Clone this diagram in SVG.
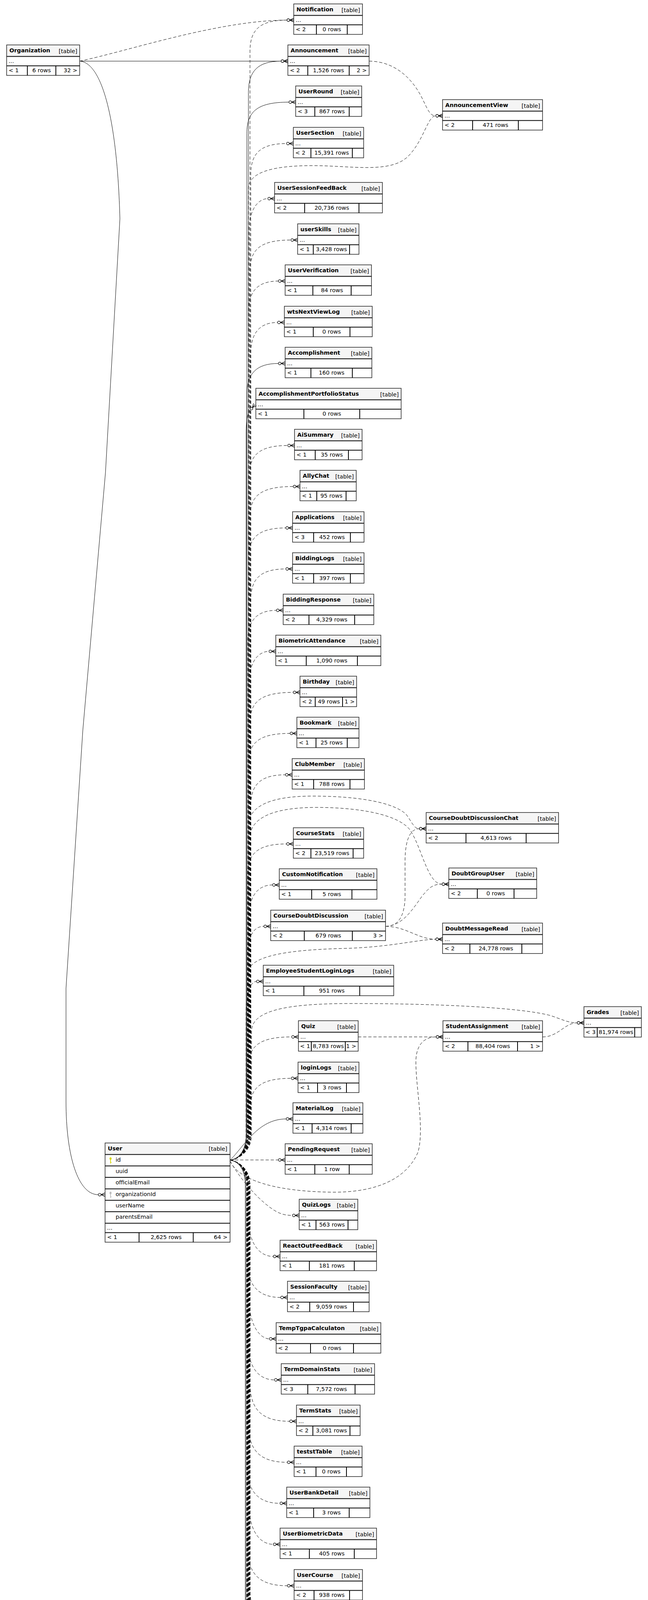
<svg xmlns="http://www.w3.org/2000/svg" xmlns:xlink="http://www.w3.org/1999/xlink" width="1659" height="6503" viewBox="0 0 1659 6503">
<style>
.h{fill:#f5f5f5}
.b{fill:none;stroke:#222;stroke-width:1.5}
.bb{fill:none;stroke:#000;stroke-width:3}
.s{fill:none;stroke:#000;stroke-width:2}
.ti{font-family:"DejaVu Sans",sans-serif;font-size:14.4px;font-weight:bold;fill:#000}
.tx,.tg,.tc,.tr{font-family:"DejaVu Sans",sans-serif;font-size:14.4px;fill:#000}
.tg,.tr{text-anchor:end}
.tc{text-anchor:middle}
.e{fill:none;stroke:#000;stroke-width:1;marker-end:url(#cf)}
.d{stroke-dasharray:8 5}
</style>
<defs>
<marker id="cf" markerUnits="userSpaceOnUse" markerWidth="20" markerHeight="14" refX="0" refY="7" orient="auto" overflow="visible">
<circle cx="3.6" cy="7" r="3.4" fill="#fff" stroke="#000" stroke-width="1.2" stroke-dasharray="none"/>
<path d="M7 7L17.5 2.3M7 7L17.5 7M7 7L17.5 11.7" fill="none" stroke="#000" stroke-width="1.3" stroke-dasharray="none"/>
</marker>
<g id="key"><ellipse cx="0" cy="0" rx="2.6" ry="3.2"/><rect x="-0.9" y="2" width="1.8" height="10.5"/><rect x="0.9" y="9" width="1.8" height="1.5"/></g>
</defs>
<rect width="1659" height="6503" fill="#fff"/>

<g id="connectors">
<path class="e d" d="M204 156.5C330 130 560 52 734.5 51.5"/>
<path class="e" d="M204 156.5L719.5 156.5"/>
<path class="e" d="M204 156.5C260 160 300 300 307 560L270 1210L212 1870L169 2530L169 2820C169 2960 200 3058.4 251.5 3058.4"/>
<path class="e d" d="M945 156.5C1010 157 1055 200 1080 250C1095 280 1100 296.5 1115.5 296.5"/>
<path class="e d" d="M987 2371.5C1020 2371.5 1035 2345 1037 2300L1037 2200C1038 2150 1050 2121.5 1073.5 2121.5"/>
<path class="e d" d="M987 2371.5C1030 2370 1055 2330 1080 2295C1100 2270 1110 2263.5 1131.5 2263.5"/>
<path class="e d" d="M987 2371.5C1040 2371.5 1070 2404.5 1115.5 2404.5"/>
<path class="e d" d="M917 2654.5L1116.5 2654.5"/>
<path class="e d" d="M1389 2654.5C1430 2654.5 1445 2618.5 1477.5 2618.5"/>
<path class="e d" d="M589 2970C608 2968 640 2950 640 2905L640 131.5C640 76.5 665 51.5 734.5 51.5"/>
<path class="e" d="M589 2970C608 2968 636 2950 636 2905L636 236.5C636 181.5 661 156.5 719.5 156.5"/>
<path class="e" d="M589 2970C608 2968 632 2950 632 2905L632 341.5C632 286.5 657 261.5 739.5 261.5"/>
<path class="e d" d="M589 2970C608 2968 642 2950 642 2905L642 447.5C642 392.5 667 367.5 733.5 367.5"/>
<path class="e d" d="M589 2970C608 2968 636 2950 636 2905L636 480C640 440 700 424 800 424C900 424 1000 445 1045 400C1085 360 1095 296.5 1115.5 296.5"/>
<path class="e d" d="M589 2970C608 2968 638 2950 638 2905L638 588.5C638 533.5 663 508.5 685.5 508.5"/>
<path class="e d" d="M589 2970C608 2968 640 2950 640 2905L640 694.5C640 639.5 665 614.5 744.5 614.5"/>
<path class="e d" d="M589 2970C608 2968 636 2950 636 2905L636 799.5C636 744.5 661 719.5 712.5 719.5"/>
<path class="e d" d="M589 2970C608 2968 642 2950 642 2905L642 905.5C642 850.5 667 825.5 710.5 825.5"/>
<path class="e" d="M589 2970C608 2968 632 2950 632 2905L632 1010.5C632 955.5 657 930.5 712.5 930.5"/>
<path class="e" d="M589 2970C608 2968 630 2950 630 2905L630 1110C630 1075 634 1058 641.5 1049"/>
<path class="e d" d="M589 2970C608 2968 638 2950 638 2905L638 1220.5C638 1165.5 663 1140.5 736.5 1140.5"/>
<path class="e d" d="M589 2970C608 2968 640 2950 640 2905L640 1325.5C640 1270.5 665 1245.5 750.5 1245.5"/>
<path class="e d" d="M589 2970C608 2968 636 2950 636 2905L636 1431.5C636 1376.5 661 1351.5 731.5 1351.5"/>
<path class="e d" d="M589 2970C608 2968 642 2950 642 2905L642 1536.5C642 1481.5 667 1456.5 731.5 1456.5"/>
<path class="e d" d="M589 2970C608 2968 634 2950 634 2905L634 1642.5C634 1587.5 659 1562.5 707.5 1562.5"/>
<path class="e d" d="M589 2970C608 2968 638 2950 638 2905L638 1747.5C638 1692.5 663 1667.5 688.5 1667.5"/>
<path class="e d" d="M589 2970C608 2968 640 2950 640 2905L640 1852.5C640 1797.5 665 1772.5 750.5 1772.5"/>
<path class="e d" d="M589 2970C608 2968 636 2950 636 2905L636 1957.5C636 1902.5 661 1877.5 742.5 1877.5"/>
<path class="e d" d="M589 2970C608 2968 642 2950 642 2905L642 2063.5C642 2008.5 667 1983.5 730.5 1983.5"/>
<path class="e d" d="M589 2970C608 2968 636 2950 636 2905L636 2110C640 2060 700 2038 800 2038C920 2038 1010 2055 1040 2085C1055 2105 1060 2121.5 1073.5 2121.5"/>
<path class="e d" d="M589 2970C608 2968 640 2950 640 2905L640 2140C645 2085 720 2067 810 2067C920 2067 1020 2085 1050 2125C1080 2170 1095 2263.5 1131.5 2263.5"/>
<path class="e d" d="M589 2970C608 2968 634 2950 634 2905L634 2240.5C634 2185.5 659 2160.5 733.5 2160.5"/>
<path class="e d" d="M589 2970C608 2968 638 2950 638 2905L638 2345.5C638 2290.5 663 2265.5 697.5 2265.5"/>
<path class="e d" d="M589 2970C608 2968 633 2950 633 2905L633 2450C634 2395 650 2371.5 675.5 2371.5"/>
<path class="e d" d="M589 2970C608 2968 634 2950 634 2905L634 2490C640 2450 720 2432 880 2428C1000 2425 1070 2405 1115.5 2404.5"/>
<path class="e d" d="M589 2970C608 2968 630 2950 630 2905L630 2590C631 2545 640 2512.5 656.5 2512.5"/>
<path class="e d" d="M589 2970C608 2968 644 2950 644 2905L644 2640C645 2590 720 2569 900 2569C1100 2569 1330 2578 1410 2600C1440 2610 1455 2618.5 1477.5 2618.5"/>
<path class="e d" d="M589 2970C608 2968 636 2950 636 2905L636 2734.5C636 2679.5 661 2654.5 746.5 2654.5"/>
<path class="e d" d="M589 2970C608 2968 640 2950 640 2905L640 2840.5C640 2785.5 665 2760.5 745.5 2760.5"/>
<path class="e" d="M589 2970C625 2935 660 2864.5 732.5 2864.5"/>
<path class="e d" d="M589 2969.5L712.5 2969.5"/>
<path class="e d" d="M589 2972C610 3020 700 3050 850 3052C960 3053 1040 3020 1070 2950C1088 2890 1062 2770 1065 2710C1068 2670 1090 2654.5 1116.5 2654.5"/>
<path class="e d" d="M589 2972C610 3010 650 3060 690 3090C710 3105 725 3111.5 748.5 3111.5"/>
<path class="e d" d="M589 2970C608 2972 636 2990 636 3035L636 3126.5C639 3186.5 666 3216.5 699.5 3216.5"/>
<path class="e d" d="M589 2970C608 2972 632 2990 632 3035L632 3231.5C635 3291.5 662 3321.5 718.5 3321.5"/>
<path class="e d" d="M589 2970C608 2972 638 2990 638 3035L638 3337.5C641 3397.5 668 3427.5 689.5 3427.5"/>
<path class="e d" d="M589 2970C608 2972 634 2990 634 3035L634 3442.5C637 3502.5 664 3532.5 702.5 3532.5"/>
<path class="e d" d="M589 2970C608 2972 640 2990 640 3035L640 3548.5C643 3608.5 670 3638.5 741.5 3638.5"/>
<path class="e d" d="M589 2970C608 2972 636 2990 636 3035L636 3653.5C639 3713.5 666 3743.5 735.5 3743.5"/>
<path class="e d" d="M589 2970C608 2972 632 2990 632 3035L632 3758.5C635 3818.5 662 3848.5 716.5 3848.5"/>
<path class="e d" d="M589 2970C608 2972 638 2990 638 3035L638 3863.5C641 3923.5 668 3953.5 699.5 3953.5"/>
<path class="e d" d="M589 2970C608 2972 634 2990 634 3035L634 3969.5C637 4029.5 664 4059.5 735.5 4059.5"/>
<path class="e d" d="M589 2970C608 2972 640 2990 640 3035L640 4074.5C643 4134.5 670 4164.5 698.5 4164.5"/>
<path class="e d" d="M589 2970C608 2972 636 2990 636 3035L636 4179.5C639 4239.5 666 4269.5 702.5 4269.5"/>
<path class="e d" d="M589 2970C608 2972 632 2990 632 3035L632 4285.5C635 4345.5 662 4375.5 728.5 4375.5"/>
<path class="e d" d="M589 2970C608 2972 638 2990 638 3035L638 4390.5C641 4450.5 668 4480.5 708.5 4480.5"/>
<path class="e d" d="M589 2970C608 2972 634 2990 634 3035L634 4496.5C637 4556.5 664 4586.5 708.5 4586.5"/>
<path class="e d" d="M589 2970C608 2972 640 2990 640 3035L640 4601.5C643 4661.5 670 4691.5 721.5 4691.5"/>
<path class="e" d="M589 2970C608 2972 630 2990 630 3035L630 4706.5C633 4766.5 660 4796.5 723.5 4796.5"/>
<path class="e" d="M589 2970C608 2972 635 2990 635 3035L635 4726.5C638 4776.5 665 4796.5 723.5 4796.5"/>
<path class="e d" d="M589 2970C608 2972 636 2990 636 3035L636 4812.5C639 4872.5 666 4902.5 715.5 4902.5"/>
<path class="e d" d="M589 2970C608 2972 640 2990 640 3035L640 5000C642 5070 648 5101 660.5 5101"/>
<path class="e d" d="M589 2970C608 2972 632 2990 632 3035L632 5268.5C635 5328.5 662 5358.5 744.5 5358.5"/>
<path class="e d" d="M589 2970C608 2972 638 2990 638 3035L638 5374.5C641 5434.5 668 5464.5 746.5 5464.5"/>
<path class="e d" d="M589 2970C608 2972 634 2990 634 3035L634 5478.5C637 5538.5 664 5568.5 719.5 5568.5"/>
<path class="e d" d="M589 2970C608 2972 640 2990 640 3035L640 5584.5C643 5644.5 670 5674.5 711.5 5674.5"/>
<path class="e d" d="M589 2970C608 2972 636 2990 636 3035L636 5689.5C639 5749.5 666 5779.5 702.5 5779.5"/>
<path class="e d" d="M589 2970C608 2972 632 2990 632 3035L632 5794.5C635 5854.5 662 5884.5 726.5 5884.5"/>
<path class="e d" d="M589 2970C608 2972 638 2990 638 3035L638 5899.5C641 5959.5 668 5989.5 696.5 5989.5"/>
<path class="e d" d="M589 2970C608 2972 634 2990 634 3035L634 6005.5C637 6065.5 664 6095.5 737.5 6095.5"/>
<path class="e d" d="M589 2970C608 2972 640 2990 640 3035L640 6111.5C643 6171.5 670 6201.5 727.5 6201.5"/>
<path class="e d" d="M589 2970C608 2972 636 2990 636 3035L636 6215.5C639 6275.5 666 6305.5 747.5 6305.5"/>
<path class="e" d="M589 2970C608 2972 628 2990 628 3035L628 6321.5C631 6381.5 658 6411.5 747.5 6411.5"/>
</g>

<g id="t-Organization" transform="translate(17 115)"><rect class="h" width="187" height="29.5"/><rect class="b" width="187" height="78"/><path class="s" d="M0 29.5H187M0 53.5H187M53 53.5V78M126 53.5V78"/><text class="ti" x="7" y="19">Organization</text><text class="tg" x="181" y="20.5">[table]</text><text class="tx" x="5" y="46">...</text><text class="tx" x="5" y="70">&lt; 1</text><text class="tc" x="89.5" y="70">6 rows</text><text class="tr" x="181" y="70">32 &gt;</text></g>

<g id="t-Notification" transform="translate(752 10)"><rect class="h" width="176" height="29.5"/><rect class="b" width="176" height="78"/><path class="s" d="M0 29.5H176M0 53.5H176M58 53.5V78M137 53.5V78"/><text class="ti" x="7" y="19">Notification</text><text class="tg" x="170" y="20.5">[table]</text><text class="tx" x="5" y="46">...</text><text class="tx" x="5" y="70">&lt; 2</text><text class="tc" x="97.5" y="70">0 rows</text></g>

<g id="t-Announcement" transform="translate(737 115)"><rect class="h" width="208" height="29.5"/><rect class="b" width="208" height="78"/><path class="s" d="M0 29.5H208M0 53.5H208M51 53.5V78M157 53.5V78"/><text class="ti" x="7" y="19">Announcement</text><text class="tg" x="202" y="20.5">[table]</text><text class="tx" x="5" y="46">...</text><text class="tx" x="5" y="70">&lt; 2</text><text class="tc" x="104" y="70">1,526 rows</text><text class="tr" x="202" y="70">2 &gt;</text></g>

<g id="t-UserRound" transform="translate(757 220)"><rect class="h" width="169" height="29.5"/><rect class="b" width="169" height="78"/><path class="s" d="M0 29.5H169M0 53.5H169M49 53.5V78M137 53.5V78"/><text class="ti" x="7" y="19">UserRound</text><text class="tg" x="163" y="20.5">[table]</text><text class="tx" x="5" y="46">...</text><text class="tx" x="5" y="70">&lt; 3</text><text class="tc" x="93" y="70">867 rows</text></g>

<g id="t-AnnouncementView" transform="translate(1133 255)"><rect class="h" width="256" height="29.5"/><rect class="b" width="256" height="78"/><path class="s" d="M0 29.5H256M0 53.5H256M77 53.5V78M194 53.5V78"/><text class="ti" x="7" y="19">AnnouncementView</text><text class="tg" x="250" y="20.5">[table]</text><text class="tx" x="5" y="46">...</text><text class="tx" x="5" y="70">&lt; 2</text><text class="tc" x="135.5" y="70">471 rows</text></g>

<g id="t-UserSection" transform="translate(751 326)"><rect class="h" width="180" height="29.5"/><rect class="b" width="180" height="78"/><path class="s" d="M0 29.5H180M0 53.5H180M45 53.5V78M151 53.5V78"/><text class="ti" x="7" y="19">UserSection</text><text class="tg" x="174" y="20.5">[table]</text><text class="tx" x="5" y="46">...</text><text class="tx" x="5" y="70">&lt; 2</text><text class="tc" x="98" y="70">15,391 rows</text></g>

<g id="t-UserSessionFeedBack" transform="translate(703 467)"><rect class="h" width="276" height="29.5"/><rect class="b" width="276" height="78"/><path class="s" d="M0 29.5H276M0 53.5H276M77 53.5V78M216 53.5V78"/><text class="ti" x="7" y="19">UserSessionFeedBack</text><text class="tg" x="270" y="20.5">[table]</text><text class="tx" x="5" y="46">...</text><text class="tx" x="5" y="70">&lt; 2</text><text class="tc" x="146.5" y="70">20,736 rows</text></g>

<g id="t-userSkills" transform="translate(762 573)"><rect class="h" width="157" height="29.5"/><rect class="b" width="157" height="78"/><path class="s" d="M0 29.5H157M0 53.5H157M40 53.5V78M133 53.5V78"/><text class="ti" x="7" y="19">userSkills</text><text class="tg" x="151" y="20.5">[table]</text><text class="tx" x="5" y="46">...</text><text class="tx" x="5" y="70">&lt; 1</text><text class="tc" x="86.5" y="70">3,428 rows</text></g>

<g id="t-UserVerification" transform="translate(730 678)"><rect class="h" width="221" height="29.5"/><rect class="b" width="221" height="78"/><path class="s" d="M0 29.5H221M0 53.5H221M71 53.5V78M169 53.5V78"/><text class="ti" x="7" y="19">UserVerification</text><text class="tg" x="215" y="20.5">[table]</text><text class="tx" x="5" y="46">...</text><text class="tx" x="5" y="70">&lt; 1</text><text class="tc" x="120" y="70">84 rows</text></g>

<g id="t-wtsNextViewLog" transform="translate(728 784)"><rect class="h" width="225" height="29.5"/><rect class="b" width="225" height="78"/><path class="s" d="M0 29.5H225M0 53.5H225M74 53.5V78M168 53.5V78"/><text class="ti" x="7" y="19">wtsNextViewLog</text><text class="tg" x="219" y="20.5">[table]</text><text class="tx" x="5" y="46">...</text><text class="tx" x="5" y="70">&lt; 1</text><text class="tc" x="121" y="70">0 rows</text></g>

<g id="t-Accomplishment" transform="translate(730 889)"><rect class="h" width="222" height="29.5"/><rect class="b" width="222" height="78"/><path class="s" d="M0 29.5H222M0 53.5H222M66 53.5V78M172 53.5V78"/><text class="ti" x="7" y="19">Accomplishment</text><text class="tg" x="216" y="20.5">[table]</text><text class="tx" x="5" y="46">...</text><text class="tx" x="5" y="70">&lt; 1</text><text class="tc" x="119" y="70">160 rows</text></g>

<g id="t-AccomplishmentPortfolioStatus" transform="translate(655 994)"><rect class="h" width="372" height="29.5"/><rect class="b" width="372" height="78"/><path class="s" d="M0 29.5H372M0 53.5H372M123 53.5V78M266 53.5V78"/><text class="ti" x="7" y="19">AccomplishmentPortfolioStatus</text><text class="tg" x="366" y="20.5">[table]</text><text class="tx" x="5" y="46">...</text><text class="tx" x="5" y="70">&lt; 1</text><text class="tc" x="194.5" y="70">0 rows</text></g>

<g id="t-AiSummary" transform="translate(754 1099)"><rect class="h" width="173" height="29.5"/><rect class="b" width="173" height="78"/><path class="s" d="M0 29.5H173M0 53.5H173M53 53.5V78M138 53.5V78"/><text class="ti" x="7" y="19">AiSummary</text><text class="tg" x="167" y="20.5">[table]</text><text class="tx" x="5" y="46">...</text><text class="tx" x="5" y="70">&lt; 1</text><text class="tc" x="95.5" y="70">35 rows</text></g>

<g id="t-AllyChat" transform="translate(768 1204)"><rect class="h" width="144" height="29.5"/><rect class="b" width="144" height="78"/><path class="s" d="M0 29.5H144M0 53.5H144M43 53.5V78M118 53.5V78"/><text class="ti" x="7" y="19">AllyChat</text><text class="tg" x="138" y="20.5">[table]</text><text class="tx" x="5" y="46">...</text><text class="tx" x="5" y="70">&lt; 1</text><text class="tc" x="80.5" y="70">95 rows</text></g>

<g id="t-Applications" transform="translate(749 1310)"><rect class="h" width="183" height="29.5"/><rect class="b" width="183" height="78"/><path class="s" d="M0 29.5H183M0 53.5H183M54 53.5V78M148 53.5V78"/><text class="ti" x="7" y="19">Applications</text><text class="tg" x="177" y="20.5">[table]</text><text class="tx" x="5" y="46">...</text><text class="tx" x="5" y="70">&lt; 3</text><text class="tc" x="101" y="70">452 rows</text></g>

<g id="t-BiddingLogs" transform="translate(749 1415)"><rect class="h" width="183" height="29.5"/><rect class="b" width="183" height="78"/><path class="s" d="M0 29.5H183M0 53.5H183M54 53.5V78M148 53.5V78"/><text class="ti" x="7" y="19">BiddingLogs</text><text class="tg" x="177" y="20.5">[table]</text><text class="tx" x="5" y="46">...</text><text class="tx" x="5" y="70">&lt; 1</text><text class="tc" x="101" y="70">397 rows</text></g>

<g id="t-BiddingResponse" transform="translate(725 1521)"><rect class="h" width="232" height="29.5"/><rect class="b" width="232" height="78"/><path class="s" d="M0 29.5H232M0 53.5H232M66 53.5V78M183 53.5V78"/><text class="ti" x="7" y="19">BiddingResponse</text><text class="tg" x="226" y="20.5">[table]</text><text class="tx" x="5" y="46">...</text><text class="tx" x="5" y="70">&lt; 2</text><text class="tc" x="124.5" y="70">4,329 rows</text></g>

<g id="t-BiometricAttendance" transform="translate(706 1626)"><rect class="h" width="269" height="29.5"/><rect class="b" width="269" height="78"/><path class="s" d="M0 29.5H269M0 53.5H269M78 53.5V78M209 53.5V78"/><text class="ti" x="7" y="19">BiometricAttendance</text><text class="tg" x="263" y="20.5">[table]</text><text class="tx" x="5" y="46">...</text><text class="tx" x="5" y="70">&lt; 1</text><text class="tc" x="143.5" y="70">1,090 rows</text></g>

<g id="t-Birthday" transform="translate(768 1731)"><rect class="h" width="145" height="29.5"/><rect class="b" width="145" height="78"/><path class="s" d="M0 29.5H145M0 53.5H145M39 53.5V78M109 53.5V78"/><text class="ti" x="7" y="19">Birthday</text><text class="tg" x="139" y="20.5">[table]</text><text class="tx" x="5" y="46">...</text><text class="tx" x="5" y="70">&lt; 2</text><text class="tc" x="74" y="70">49 rows</text><text class="tr" x="140" y="70">1 &gt;</text></g>

<g id="t-Bookmark" transform="translate(760 1836)"><rect class="h" width="159" height="29.5"/><rect class="b" width="159" height="78"/><path class="s" d="M0 29.5H159M0 53.5H159M49 53.5V78M129 53.5V78"/><text class="ti" x="7" y="19">Bookmark</text><text class="tg" x="153" y="20.5">[table]</text><text class="tx" x="5" y="46">...</text><text class="tx" x="5" y="70">&lt; 1</text><text class="tc" x="89" y="70">25 rows</text></g>

<g id="t-ClubMember" transform="translate(748 1942)"><rect class="h" width="185" height="29.5"/><rect class="b" width="185" height="78"/><path class="s" d="M0 29.5H185M0 53.5H185M55 53.5V78M148 53.5V78"/><text class="ti" x="7" y="19">ClubMember</text><text class="tg" x="179" y="20.5">[table]</text><text class="tx" x="5" y="46">...</text><text class="tx" x="5" y="70">&lt; 1</text><text class="tc" x="101.5" y="70">788 rows</text></g>

<g id="t-CourseDoubtDiscussionChat" transform="translate(1091 2080)"><rect class="h" width="339" height="29.5"/><rect class="b" width="339" height="78"/><path class="s" d="M0 29.5H339M0 53.5H339M102 53.5V78M256 53.5V78"/><text class="ti" x="7" y="19">CourseDoubtDiscussionChat</text><text class="tg" x="333" y="20.5">[table]</text><text class="tx" x="5" y="46">...</text><text class="tx" x="5" y="70">&lt; 2</text><text class="tc" x="179" y="70">4,613 rows</text></g>

<g id="t-CourseStats" transform="translate(751 2119)"><rect class="h" width="180" height="29.5"/><rect class="b" width="180" height="78"/><path class="s" d="M0 29.5H180M0 53.5H180M45 53.5V78M153 53.5V78"/><text class="ti" x="7" y="19">CourseStats</text><text class="tg" x="174" y="20.5">[table]</text><text class="tx" x="5" y="46">...</text><text class="tx" x="5" y="70">&lt; 2</text><text class="tc" x="99" y="70">23,519 rows</text></g>

<g id="t-DoubtGroupUser" transform="translate(1149 2222)"><rect class="h" width="225" height="29.5"/><rect class="b" width="225" height="78"/><path class="s" d="M0 29.5H225M0 53.5H225M73 53.5V78M167 53.5V78"/><text class="ti" x="7" y="19">DoubtGroupUser</text><text class="tg" x="219" y="20.5">[table]</text><text class="tx" x="5" y="46">...</text><text class="tx" x="5" y="70">&lt; 2</text><text class="tc" x="120" y="70">0 rows</text></g>

<g id="t-CustomNotification" transform="translate(715 2224)"><rect class="h" width="250" height="29.5"/><rect class="b" width="250" height="78"/><path class="s" d="M0 29.5H250M0 53.5H250M83 53.5V78M186 53.5V78"/><text class="ti" x="7" y="19">CustomNotification</text><text class="tg" x="244" y="20.5">[table]</text><text class="tx" x="5" y="46">...</text><text class="tx" x="5" y="70">&lt; 1</text><text class="tc" x="134.5" y="70">5 rows</text></g>

<g id="t-CourseDoubtDiscussion" transform="translate(693 2330)"><rect class="h" width="294" height="29.5"/><rect class="b" width="294" height="78"/><path class="s" d="M0 29.5H294M0 53.5H294M86 53.5V78M209 53.5V78"/><text class="ti" x="7" y="19">CourseDoubtDiscussion</text><text class="tg" x="288" y="20.5">[table]</text><text class="tx" x="5" y="46">...</text><text class="tx" x="5" y="70">&lt; 2</text><text class="tc" x="147.5" y="70">679 rows</text><text class="tr" x="288" y="70">3 &gt;</text></g>

<g id="t-DoubtMessageRead" transform="translate(1133 2363)"><rect class="h" width="256" height="29.5"/><rect class="b" width="256" height="78"/><path class="s" d="M0 29.5H256M0 53.5H256M70 53.5V78M203 53.5V78"/><text class="ti" x="7" y="19">DoubtMessageRead</text><text class="tg" x="250" y="20.5">[table]</text><text class="tx" x="5" y="46">...</text><text class="tx" x="5" y="70">&lt; 2</text><text class="tc" x="136.5" y="70">24,778 rows</text></g>

<g id="t-EmployeeStudentLoginLogs" transform="translate(674 2471)"><rect class="h" width="334" height="29.5"/><rect class="b" width="334" height="78"/><path class="s" d="M0 29.5H334M0 53.5H334M104 53.5V78M247 53.5V78"/><text class="ti" x="7" y="19">EmployeeStudentLoginLogs</text><text class="tg" x="328" y="20.5">[table]</text><text class="tx" x="5" y="46">...</text><text class="tx" x="5" y="70">&lt; 1</text><text class="tc" x="175.5" y="70">951 rows</text></g>

<g id="t-Grades" transform="translate(1495 2577)"><rect class="h" width="147" height="29.5"/><rect class="b" width="147" height="78"/><path class="s" d="M0 29.5H147M0 53.5H147M34 53.5V78M130 53.5V78"/><text class="ti" x="7" y="19">Grades</text><text class="tg" x="141" y="20.5">[table]</text><text class="tx" x="5" y="46">...</text><text class="tx" x="4" y="70">&lt; 3</text><text class="tc" x="82" y="70">81,974 rows</text></g>

<g id="t-Quiz" transform="translate(764 2613)"><rect class="h" width="153" height="29.5"/><rect class="b" width="153" height="78"/><path class="s" d="M0 29.5H153M0 53.5H153M33 53.5V78M120 53.5V78"/><text class="ti" x="7" y="19">Quiz</text><text class="tg" x="147" y="20.5">[table]</text><text class="tx" x="5" y="46">...</text><text class="tx" x="4" y="70">&lt; 1</text><text class="tc" x="76.5" y="70">8,783 rows</text><text class="tr" x="148" y="70">1 &gt;</text></g>

<g id="t-StudentAssignment" transform="translate(1134 2613)"><rect class="h" width="255" height="29.5"/><rect class="b" width="255" height="78"/><path class="s" d="M0 29.5H255M0 53.5H255M64 53.5V78M191 53.5V78"/><text class="ti" x="7" y="19">StudentAssignment</text><text class="tg" x="249" y="20.5">[table]</text><text class="tx" x="5" y="46">...</text><text class="tx" x="5" y="70">&lt; 2</text><text class="tc" x="127.5" y="70">88,404 rows</text><text class="tr" x="249" y="70">1 &gt;</text></g>

<g id="t-loginLogs" transform="translate(763 2719)"><rect class="h" width="156" height="29.5"/><rect class="b" width="156" height="78"/><path class="s" d="M0 29.5H156M0 53.5H156M50 53.5V78M124 53.5V78"/><text class="ti" x="7" y="19">loginLogs</text><text class="tg" x="150" y="20.5">[table]</text><text class="tx" x="5" y="46">...</text><text class="tx" x="5" y="70">&lt; 1</text><text class="tc" x="87" y="70">3 rows</text></g>

<g id="t-MaterialLog" transform="translate(750 2823)"><rect class="h" width="179" height="29.5"/><rect class="b" width="179" height="78"/><path class="s" d="M0 29.5H179M0 53.5H179M49 53.5V78M149 53.5V78"/><text class="ti" x="7" y="19">MaterialLog</text><text class="tg" x="173" y="20.5">[table]</text><text class="tx" x="5" y="46">...</text><text class="tx" x="5" y="70">&lt; 1</text><text class="tc" x="99" y="70">4,314 rows</text></g>

<g id="t-PendingRequest" transform="translate(730 2928)"><rect class="h" width="223" height="29.5"/><rect class="b" width="223" height="78"/><path class="s" d="M0 29.5H223M0 53.5H223M76 53.5V78M164 53.5V78"/><text class="ti" x="7" y="19">PendingRequest</text><text class="tg" x="217" y="20.5">[table]</text><text class="tx" x="5" y="46">...</text><text class="tx" x="5" y="70">&lt; 1</text><text class="tc" x="120" y="70">1 row</text></g>

<g id="t-User" transform="translate(269 2926)">
<rect class="h" width="320" height="29.4"/><rect class="b" width="320" height="254"/>
<path class="s" d="M0 29.4H320M0 58.7H320M0 88H320M0 117.4H320M0 146.7H320M0 176H320M0 205.4H320M0 229.4H320M87 229.4V254M225.7 229.4V254"/>
<text class="ti" x="7" y="18.5">User</text><text class="tg" x="313" y="20">[table]</text>
<use xlink:href="#key" href="#key" x="14" y="40" fill="#d6d600"/>
<use xlink:href="#key" href="#key" x="14" y="128" fill="#bdbdbd"/>
<text class="tx" x="27" y="47.7">id</text>
<text class="tx" x="27" y="77">uuid</text>
<text class="tx" x="27" y="106.3">officialEmail</text>
<text class="tx" x="27" y="135.7">organizationId</text>
<text class="tx" x="27" y="165">userName</text>
<text class="tx" x="27" y="194.3">parentsEmail</text>
<text class="tx" x="5" y="222">...</text>
<text class="tx" x="5" y="246">&lt; 1</text><text class="tc" x="156.4" y="246">2,625 rows</text><text class="tr" x="313.5" y="246">64 &gt;</text>
</g>

<g id="t-QuizLogs" transform="translate(766 3070)"><rect class="h" width="150" height="29.5"/><rect class="b" width="150" height="78"/><path class="s" d="M0 29.5H150M0 53.5H150M43 53.5V78M125 53.5V78"/><text class="ti" x="7" y="19">QuizLogs</text><text class="tg" x="144" y="20.5">[table]</text><text class="tx" x="5" y="46">...</text><text class="tx" x="5" y="70">&lt; 1</text><text class="tc" x="84" y="70">563 rows</text></g>

<g id="t-ReactOutFeedBack" transform="translate(717 3175)"><rect class="h" width="247" height="29.5"/><rect class="b" width="247" height="78"/><path class="s" d="M0 29.5H247M0 53.5H247M75 53.5V78M190 53.5V78"/><text class="ti" x="7" y="19">ReactOutFeedBack</text><text class="tg" x="241" y="20.5">[table]</text><text class="tx" x="5" y="46">...</text><text class="tx" x="5" y="70">&lt; 1</text><text class="tc" x="132.5" y="70">181 rows</text></g>

<g id="t-SessionFaculty" transform="translate(736 3280)"><rect class="h" width="209" height="29.5"/><rect class="b" width="209" height="78"/><path class="s" d="M0 29.5H209M0 53.5H209M57 53.5V78M169 53.5V78"/><text class="ti" x="7" y="19">SessionFaculty</text><text class="tg" x="203" y="20.5">[table]</text><text class="tx" x="5" y="46">...</text><text class="tx" x="5" y="70">&lt; 2</text><text class="tc" x="113" y="70">9,059 rows</text></g>

<g id="t-TempTgpaCalculaton" transform="translate(707 3386)"><rect class="h" width="268" height="29.5"/><rect class="b" width="268" height="78"/><path class="s" d="M0 29.5H268M0 53.5H268M88 53.5V78M198 53.5V78"/><text class="ti" x="7" y="19">TempTgpaCalculaton</text><text class="tg" x="262" y="20.5">[table]</text><text class="tx" x="5" y="46">...</text><text class="tx" x="5" y="70">&lt; 2</text><text class="tc" x="143" y="70">0 rows</text></g>

<g id="t-TermDomainStats" transform="translate(720 3491)"><rect class="h" width="239" height="29.5"/><rect class="b" width="239" height="78"/><path class="s" d="M0 29.5H239M0 53.5H239M68 53.5V78M189 53.5V78"/><text class="ti" x="7" y="19">TermDomainStats</text><text class="tg" x="233" y="20.5">[table]</text><text class="tx" x="5" y="46">...</text><text class="tx" x="5" y="70">&lt; 3</text><text class="tc" x="128.5" y="70">7,572 rows</text></g>

<g id="t-TermStats" transform="translate(759 3597)"><rect class="h" width="163" height="29.5"/><rect class="b" width="163" height="78"/><path class="s" d="M0 29.5H163M0 53.5H163M42 53.5V78M137 53.5V78"/><text class="ti" x="7" y="19">TermStats</text><text class="tg" x="157" y="20.5">[table]</text><text class="tx" x="5" y="46">...</text><text class="tx" x="5" y="70">&lt; 2</text><text class="tc" x="89.5" y="70">3,081 rows</text></g>

<g id="t-teststTable" transform="translate(753 3702)"><rect class="h" width="174" height="29.5"/><rect class="b" width="174" height="78"/><path class="s" d="M0 29.5H174M0 53.5H174M56 53.5V78M134 53.5V78"/><text class="ti" x="7" y="19">teststTable</text><text class="tg" x="168" y="20.5">[table]</text><text class="tx" x="5" y="46">...</text><text class="tx" x="5" y="70">&lt; 1</text><text class="tc" x="95" y="70">0 rows</text></g>

<g id="t-UserBankDetail" transform="translate(734 3807)"><rect class="h" width="213" height="29.5"/><rect class="b" width="213" height="78"/><path class="s" d="M0 29.5H213M0 53.5H213M69 53.5V78M160 53.5V78"/><text class="ti" x="7" y="19">UserBankDetail</text><text class="tg" x="207" y="20.5">[table]</text><text class="tx" x="5" y="46">...</text><text class="tx" x="5" y="70">&lt; 1</text><text class="tc" x="114.5" y="70">3 rows</text></g>

<g id="t-UserBiometricData" transform="translate(717 3912)"><rect class="h" width="247" height="29.5"/><rect class="b" width="247" height="78"/><path class="s" d="M0 29.5H247M0 53.5H247M75 53.5V78M190 53.5V78"/><text class="ti" x="7" y="19">UserBiometricData</text><text class="tg" x="241" y="20.5">[table]</text><text class="tx" x="5" y="46">...</text><text class="tx" x="5" y="70">&lt; 1</text><text class="tc" x="132.5" y="70">405 rows</text></g>

<g id="t-UserCourse" transform="translate(753 4018)"><rect class="h" width="175" height="29.5"/><rect class="b" width="175" height="78"/><path class="s" d="M0 29.5H175M0 53.5H175M51 53.5V78M142 53.5V78"/><text class="ti" x="7" y="19">UserCourse</text><text class="tg" x="169" y="20.5">[table]</text><text class="tx" x="5" y="46">...</text><text class="tx" x="5" y="70">&lt; 2</text><text class="tc" x="96.5" y="70">938 rows</text></g>

<g id="t-UserCourseDomain" transform="translate(716 4123)"><rect class="h" width="248" height="29.5"/><rect class="b" width="248" height="78"/><path class="s" d="M0 29.5H248M0 53.5H248M68 53.5V78M197 53.5V78"/><text class="ti" x="7" y="19">UserCourseDomain</text><text class="tg" x="242" y="20.5">[table]</text><text class="tx" x="5" y="46">...</text><text class="tx" x="5" y="70">&lt; 4</text><text class="tc" x="132.5" y="70">56,223 rows</text></g>

<g id="t-UserCustomPolicy" transform="translate(720 4228)"><rect class="h" width="240" height="29.5"/><rect class="b" width="240" height="78"/><path class="s" d="M0 29.5H240M0 53.5H240M76 53.5V78M181 53.5V78"/><text class="ti" x="7" y="19">UserCustomPolicy</text><text class="tg" x="234" y="20.5">[table]</text><text class="tx" x="5" y="46">...</text><text class="tx" x="5" y="70">&lt; 1</text><text class="tc" x="128.5" y="70">34 rows</text></g>

<g id="t-UserDocSign" transform="translate(746 4334)"><rect class="h" width="188" height="29.5"/><rect class="b" width="188" height="78"/><path class="s" d="M0 29.5H188M0 53.5H188M55 53.5V78M150 53.5V78"/><text class="ti" x="7" y="19">UserDocSign</text><text class="tg" x="182" y="20.5">[table]</text><text class="tx" x="5" y="46">...</text><text class="tx" x="5" y="70">&lt; 2</text><text class="tc" x="102.5" y="70">494 rows</text></g>

<g id="t-UserDomainData" transform="translate(726 4439)"><rect class="h" width="227" height="29.5"/><rect class="b" width="227" height="78"/><path class="s" d="M0 29.5H227M0 53.5H227M65 53.5V78M181 53.5V78"/><text class="ti" x="7" y="19">UserDomainData</text><text class="tg" x="221" y="20.5">[table]</text><text class="tx" x="5" y="46">...</text><text class="tx" x="5" y="70">&lt; 3</text><text class="tc" x="123" y="70">2,675 rows</text></g>

<g id="t-UserDomainLogs" transform="translate(726 4545)"><rect class="h" width="227" height="29.5"/><rect class="b" width="227" height="78"/><path class="s" d="M0 29.5H227M0 53.5H227M68 53.5V78M177 53.5V78"/><text class="ti" x="7" y="19">UserDomainLogs</text><text class="tg" x="221" y="20.5">[table]</text><text class="tx" x="5" y="46">...</text><text class="tx" x="5" y="70">&lt; 3</text><text class="tc" x="122.5" y="70">367 rows</text></g>

<g id="t-UserEducation" transform="translate(739 4650)"><rect class="h" width="203" height="29.5"/><rect class="b" width="203" height="78"/><path class="s" d="M0 29.5H203M0 53.5H203M55 53.5V78M165 53.5V78"/><text class="ti" x="7" y="19">UserEducation</text><text class="tg" x="197" y="20.5">[table]</text><text class="tx" x="5" y="46">...</text><text class="tx" x="5" y="70">&lt; 1</text><text class="tc" x="110" y="70">1,135 rows</text></g>

<g id="t-UserEligibility" transform="translate(741 4755)"><rect class="h" width="199" height="29.5"/><rect class="b" width="199" height="78"/><path class="s" d="M0 29.5H199M0 53.5H199M55 53.5V78M162 53.5V78"/><text class="ti" x="7" y="19">UserEligibility</text><text class="tg" x="193" y="20.5">[table]</text><text class="tx" x="5" y="46">...</text><text class="tx" x="5" y="70">&lt; 4</text><text class="tc" x="108.5" y="70">3,365 rows</text></g>

<g id="t-UserExperience" transform="translate(733 4861)"><rect class="h" width="215" height="29.5"/><rect class="b" width="215" height="78"/><path class="s" d="M0 29.5H215M0 53.5H215M64 53.5V78M168 53.5V78"/><text class="ti" x="7" y="19">UserExperience</text><text class="tg" x="209" y="20.5">[table]</text><text class="tx" x="5" y="46">...</text><text class="tx" x="5" y="70">&lt; 1</text><text class="tc" x="116" y="70">579 rows</text></g>

<g id="t-UserGroup" transform="translate(678 4966)">
<rect class="h" width="324" height="32.2"/><rect class="bb" width="324" height="323"/>
<path class="s" d="M0 32.2H324M0 61.6H324M0 91H324M0 120.4H324M0 149.8H324M0 179.2H324M0 208.6H324M0 238H324M0 267.4H324M0 296.8H324M178 32.2V296.8M92 296.8V323M234 296.8V323"/>
<text class="ti" x="9" y="20.5">UserGroup</text><text class="tg" x="317" y="22">[table]</text>
<use xlink:href="#key" href="#key" x="15" y="43" fill="#d6d600"/>
<use xlink:href="#key" href="#key" x="15" y="131" fill="#bdbdbd"/>
<text class="tx" x="29" y="50.5">id</text><text class="tx" x="182" y="50.5">serial[10]</text>
<text class="tx" x="29" y="79.9">uuid</text><text class="tx" x="182" y="79.9">uuid[2147483647]</text>
<text class="tx" x="29" y="109.3">sectionGroupId</text><text class="tx" x="182" y="109.3">int4[10]</text>
<text class="tx" x="29" y="138.7">userId</text><text class="tx" x="182" y="138.7">int4[10]</text>
<text class="tx" x="29" y="168.1">isDeleted</text><text class="tx" x="182" y="168.1">bool[1]</text>
<text class="tx" x="29" y="197.5">createdBy</text><text class="tx" x="182" y="197.5">int4[10]</text>
<text class="tx" x="29" y="226.9">updatedBy</text><text class="tx" x="182" y="226.9">int4[10]</text>
<text class="tx" x="29" y="256.3">createdAt</text><text class="tx" x="182" y="256.3">timestamptz[35,6]</text>
<text class="tx" x="29" y="285.7">updatedAt</text><text class="tx" x="182" y="285.7">timestamptz[35,6]</text>
<text class="tx" x="8" y="314.5">&lt; 1</text><text class="tc" x="163" y="314.5">5,003 rows</text><text class="tr" x="317" y="314.5">0 &gt;</text>
</g>

<g id="t-UserLevel" transform="translate(762 5317)"><rect class="h" width="157" height="29.5"/><rect class="b" width="157" height="78"/><path class="s" d="M0 29.5H157M0 53.5H157M37 53.5V78M136 53.5V78"/><text class="ti" x="7" y="19">UserLevel</text><text class="tg" x="151" y="20.5">[table]</text><text class="tx" x="5" y="46">...</text><text class="tx" x="4" y="70">&lt; 2</text><text class="tc" x="86.5" y="70">15,084 rows</text></g>

<g id="t-UserLogs" transform="translate(764 5423)"><rect class="h" width="152" height="29.5"/><rect class="b" width="152" height="78"/><path class="s" d="M0 29.5H152M0 53.5H152M40 53.5V78M131 53.5V78"/><text class="ti" x="7" y="19">UserLogs</text><text class="tg" x="146" y="20.5">[table]</text><text class="tx" x="5" y="46">...</text><text class="tx" x="5" y="70">&lt; 1</text><text class="tc" x="85.5" y="70">1,805 rows</text></g>

<g id="t-UserNewsFeed" transform="translate(737 5527)"><rect class="h" width="207" height="29.5"/><rect class="b" width="207" height="78"/><path class="s" d="M0 29.5H207M0 53.5H207M65 53.5V78M159 53.5V78"/><text class="ti" x="7" y="19">UserNewsFeed</text><text class="tg" x="201" y="20.5">[table]</text><text class="tx" x="5" y="46">...</text><text class="tx" x="5" y="70">&lt; 2</text><text class="tc" x="112" y="70">23 rows</text></g>

<g id="t-UserNotification" transform="translate(729 5633)"><rect class="h" width="222" height="29.5"/><rect class="b" width="222" height="78"/><path class="s" d="M0 29.5H222M0 53.5H222M60 53.5V78M180 53.5V78"/><text class="ti" x="7" y="19">UserNotification</text><text class="tg" x="216" y="20.5">[table]</text><text class="tx" x="5" y="46">...</text><text class="tx" x="5" y="70">&lt; 1</text><text class="tc" x="120" y="70">52,277 rows</text></g>

<g id="t-UserNpsResponse" transform="translate(720 5738)"><rect class="h" width="240" height="29.5"/><rect class="b" width="240" height="78"/><path class="s" d="M0 29.5H240M0 53.5H240M70 53.5V78M189 53.5V78"/><text class="ti" x="7" y="19">UserNpsResponse</text><text class="tg" x="234" y="20.5">[table]</text><text class="tx" x="5" y="46">...</text><text class="tx" x="5" y="70">&lt; 2</text><text class="tc" x="129.5" y="70">4,101 rows</text></g>

<g id="t-UserPortfolio" transform="translate(744 5843)"><rect class="h" width="192" height="29.5"/><rect class="b" width="192" height="78"/><path class="s" d="M0 29.5H192M0 53.5H192M61 53.5V78M150 53.5V78"/><text class="ti" x="7" y="19">UserPortfolio</text><text class="tg" x="186" y="20.5">[table]</text><text class="tx" x="5" y="46">...</text><text class="tx" x="5" y="70">&lt; 1</text><text class="tc" x="105.5" y="70">50 rows</text></g>

<g id="t-UserPortfolioStatus" transform="translate(714 5948)"><rect class="h" width="254" height="29.5"/><rect class="b" width="254" height="78"/><path class="s" d="M0 29.5H254M0 53.5H254M77 53.5V78M194 53.5V78"/><text class="ti" x="7" y="19">UserPortfolioStatus</text><text class="tg" x="248" y="20.5">[table]</text><text class="tx" x="5" y="46">...</text><text class="tx" x="5" y="70">&lt; 1</text><text class="tc" x="135.5" y="70">770 rows</text></g>

<g id="t-UserProfile" transform="translate(755 6054)"><rect class="h" width="170" height="29.5"/><rect class="b" width="170" height="78"/><path class="s" d="M0 29.5H170M0 53.5H170M49 53.5V78M139 53.5V78"/><text class="ti" x="7" y="19">UserProfile</text><text class="tg" x="164" y="20.5">[table]</text><text class="tx" x="5" y="46">...</text><text class="tx" x="5" y="70">&lt; 1</text><text class="tc" x="94" y="70">937 rows</text></g>

<g id="t-UserProgram" transform="translate(745 6160)"><rect class="h" width="191" height="29.5"/><rect class="b" width="191" height="78"/><path class="s" d="M0 29.5H191M0 53.5H191M52 53.5V78M156 53.5V78"/><text class="ti" x="7" y="19">UserProgram</text><text class="tg" x="185" y="20.5">[table]</text><text class="tx" x="5" y="46">...</text><text class="tx" x="5" y="70">&lt; 2</text><text class="tc" x="104" y="70">2,149 rows</text></g>

<g id="t-UserRole" transform="translate(765 6264)"><rect class="h" width="150" height="29.5"/><rect class="b" width="150" height="78"/><path class="s" d="M0 29.5H150M0 53.5H150M38 53.5V78M129 53.5V78"/><text class="ti" x="7" y="19">UserRole</text><text class="tg" x="144" y="20.5">[table]</text><text class="tx" x="5" y="46">...</text><text class="tx" x="5" y="70">&lt; 2</text><text class="tc" x="83.5" y="70">2,627 rows</text></g>

<g id="t-JobViews" transform="translate(765 6370)"><rect class="h" width="151" height="29.5"/><rect class="b" width="151" height="78"/><path class="s" d="M0 29.5H151M0 53.5H151M43 53.5V78M126 53.5V78"/><text class="ti" x="7" y="19">JobViews</text><text class="tg" x="145" y="20.5">[table]</text><text class="tx" x="5" y="46">...</text><text class="tx" x="5" y="70">&lt; 2</text><text class="tc" x="84.5" y="70">215 rows</text></g>

<text class="tx" x="15" y="6488">Generated by SchemaSpy</text>
</svg>
